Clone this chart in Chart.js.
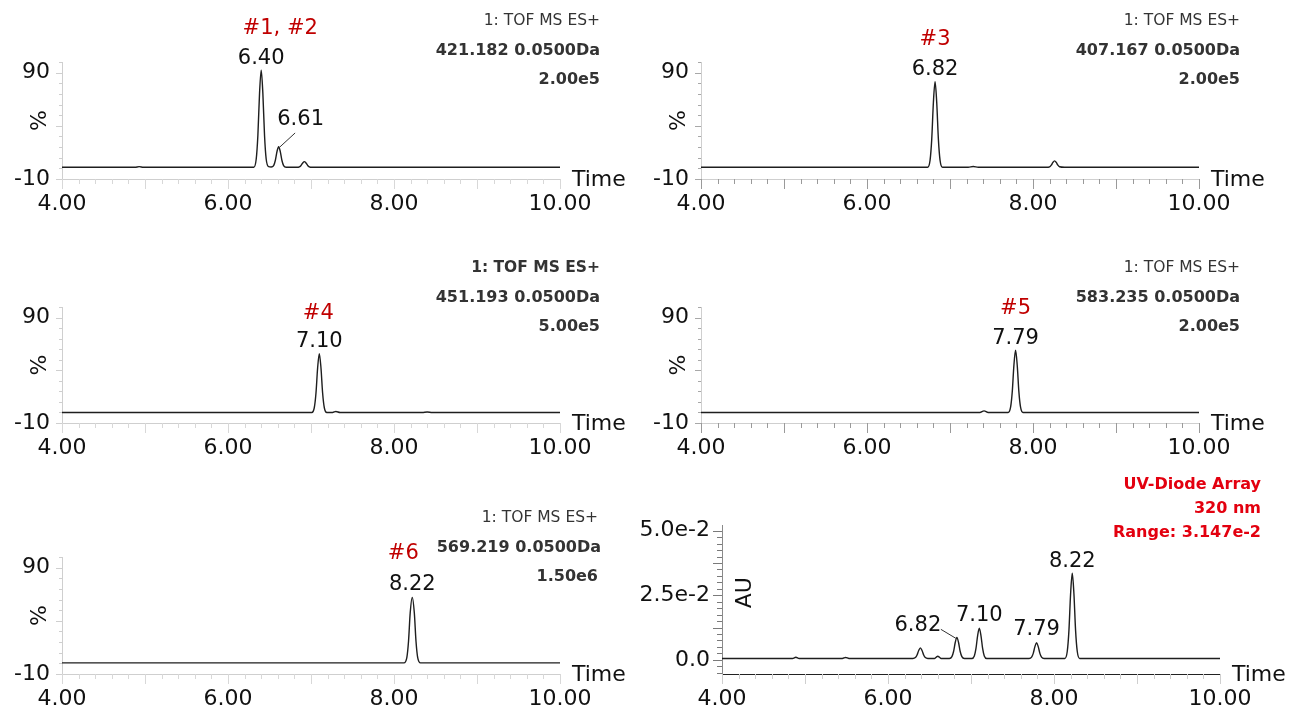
<!DOCTYPE html>
<html>
<head>
<meta charset="utf-8">
<title>Extracted ion chromatograms</title>
<script src="https://cdn.jsdelivr.net/npm/chart.js@4.4.1/dist/chart.umd.min.js"></script>
<style>
    html, body { margin: 0; padding: 0; background: #fff; }
    body { width: 1291px; height: 711px; position: relative; overflow: hidden; }
    canvas { position: absolute; }
</style>
</head>
<body>
<canvas id="c1"></canvas>
<canvas id="c2"></canvas>
<canvas id="c3"></canvas>
<canvas id="c4"></canvas>
<canvas id="c5"></canvas>
<canvas id="c6"></canvas>
<script>
// Axis ticks
const timeLabels = [4, 6, 8, 10];
const pctLabels = [90, -10];
const auLabels = { "0": "0.0", "0.025": "2.5e-2", "0.05": "5.0e-2" };

// 421.182 trace
const p1Time = [4.00, 4.88, 4.93, 4.98, 6.31, 6.34, 6.36, 6.38, 6.40, 6.42, 6.44, 6.46, 6.49, 6.52, 6.55, 6.57, 6.59, 6.61, 6.63, 6.65, 6.67, 6.70, 6.83, 6.86, 6.88, 6.90, 6.92, 6.94, 6.96, 6.98, 7.01, 10.00];
const p1Pct = [1, 1, 1.6, 1, 1, 8.8, 31.2, 70.5, 92.4, 70.5, 31.2, 8.8, 1.6, 1.3, 2.6, 7.4, 15.7, 20.4, 15.7, 7.4, 2.6, 1, 1, 1.45, 2.75, 5.0, 6.3, 5.0, 2.75, 1.45, 1, 1];

// 407.167 trace
const p2Time = [4.00, 6.73, 6.76, 6.78, 6.80, 6.82, 6.84, 6.86, 6.88, 6.91, 7.22, 7.28, 7.34, 8.16, 8.20, 8.22, 8.24, 8.26, 8.28, 8.30, 8.32, 8.38, 10.00];
const p2Pct = [1, 1, 7.8, 27.5, 62.1, 81.4, 62.1, 27.5, 7.8, 1, 1, 1.8, 1, 1, 1.5, 3.0, 5.6, 7.0, 5.6, 3.0, 1.5, 1, 1];

// 451.193 trace
const p3Time = [4.00, 7.01, 7.04, 7.06, 7.08, 7.10, 7.12, 7.14, 7.16, 7.19, 7.26, 7.30, 7.35, 8.34, 8.40, 8.46, 10.00];
const p3Pct = [0, 0, 4.7, 18.4, 42.4, 55.8, 42.4, 18.4, 4.7, 0, 0, 0.9, 0, 0, 0.4, 0, 0];

// 583.235 trace
const p4Time = [4.00, 7.36, 7.41, 7.46, 7.70, 7.73, 7.75, 7.77, 7.79, 7.81, 7.83, 7.85, 7.88, 10.00];
const p4Pct = [0, 0, 1.5, 0, 0, 5.0, 19.5, 44.8, 59.0, 44.8, 19.5, 5.0, 0, 0];

// 569.219 trace
const p5Time = [4.00, 8.12, 8.155, 8.175, 8.195, 8.22, 8.245, 8.265, 8.285, 8.32, 10.00];
const p5Pct = [0.5, 0.5, 5.7, 20.8, 47.2, 62.0, 47.2, 20.8, 5.7, 0.5, 0.5];

// UV 320 nm trace
const p6Time = [4.00, 4.85, 4.89, 4.93, 5.45, 5.49, 5.53,
    6.30, 6.33, 6.35, 6.37, 6.39, 6.41, 6.43, 6.45, 6.48,
    6.56, 6.58, 6.60, 6.62, 6.64,
    6.74, 6.77, 6.79, 6.81, 6.83, 6.85, 6.87, 6.89, 6.92,
    7.01, 7.04, 7.06, 7.08, 7.10, 7.12, 7.14, 7.16, 7.19,
    7.70, 7.73, 7.75, 7.77, 7.79, 7.81, 7.83, 7.85, 7.88,
    8.13, 8.16, 8.18, 8.20, 8.22, 8.24, 8.26, 8.28, 8.31, 10.00];
const p6AU = [0.0005, 0.0005, 0.0010, 0.0005, 0.0005, 0.0009, 0.0005,
    0.0005, 0.00085, 0.00185, 0.0036, 0.0046, 0.0036, 0.00185, 0.00085, 0.0005,
    0.0005, 0.0010, 0.0014, 0.0010, 0.0005,
    0.0005, 0.0012, 0.0032, 0.0067, 0.0087, 0.0067, 0.0032, 0.0012, 0.0005,
    0.0005, 0.0015, 0.0044, 0.0094, 0.0122, 0.0094, 0.0044, 0.0015, 0.0005,
    0.0005, 0.0010, 0.0025, 0.0051, 0.0066, 0.0051, 0.0025, 0.0010, 0.0005,
    0.0005, 0.0033, 0.0114, 0.0256, 0.0335, 0.0256, 0.0114, 0.0033, 0.0005, 0.0005];

const FONT = "'DejaVu Sans', sans-serif";
const RED = "#c00000";

// tick marks + text that Chart.js has no slot for
const decorPlugin = {
    id: "decor",
    afterDraw(chart, args, o) {
        const ctx = chart.ctx;
        const xs = chart.scales.x;
        const ys = chart.scales.y;
        ctx.save();
        ctx.lineWidth = 1;

        ctx.strokeStyle = o.xTickColor;
        xs.ticks.forEach(t => {
            const px = Math.round(xs.getPixelForValue(t.value)) + 0.5;
            const major = Math.abs(t.value - Math.round(t.value)) < 1e-6;
            ctx.beginPath();
            ctx.moveTo(px, xs.top);
            ctx.lineTo(px, xs.top + (major ? 10 : 5));
            ctx.stroke();
        });

        ctx.strokeStyle = o.yTickColor;
        ys.ticks.forEach(t => {
            const py = Math.round(ys.getPixelForValue(t.value)) + 0.5;
            const len = o.yMajor(t.value) ? o.yLong : o.yShort;
            ctx.beginPath();
            ctx.moveTo(ys.right - len, py);
            ctx.lineTo(ys.right, py);
            ctx.stroke();
        });

        // "Time"
        ctx.fillStyle = "#111";
        ctx.font = "22px " + FONT;
        ctx.textAlign = "left";
        ctx.textBaseline = "middle";
        ctx.fillText("Time", xs.right + 12, xs.top + 1);

        // rotated y title
        ctx.save();
        ctx.translate(ys.right + o.yTitleDx, ys.getPixelForValue(o.yTitleAt));
        ctx.rotate(-Math.PI / 2);
        ctx.textAlign = "center";
        ctx.fillText(o.yTitle, 0, 0);
        ctx.restore();

        // header block, top right
        ctx.textAlign = "right";
        o.header.forEach(h => {
            ctx.font = h.font;
            ctx.fillStyle = h.color;
            ctx.fillText(h.text, h.x - o.left, h.y - o.top);
        });

        // peak annotations
        ctx.textAlign = "center";
        o.peaks.forEach(p => {
            const px = xs.getPixelForValue(p.t);
            const py = ys.getPixelForValue(p.v);
            ctx.font = "21px " + FONT;
            ctx.fillStyle = p.red ? RED : "#111";
            ctx.fillText(p.text, px + (p.dx || 0), py + p.dy);
            if (p.leader) {
                ctx.strokeStyle = "#333";
                ctx.beginPath();
                ctx.moveTo(px + p.leader[0], py + p.leader[1]);
                ctx.lineTo(px + p.leader[2], py + p.leader[3]);
                ctx.stroke();
            }
        });
        ctx.restore();
    }
};

function timeTicks() {
    const list = [];
    for (let i = 0; i <= 30; i++) list.push(Math.round((4 + i * 0.2) * 10) / 10);
    return list;
}

function makePanel(id, box, area, times, values, yCfg, extra) {
    const canvas = document.getElementById(id);
    canvas.width = box.w;
    canvas.height = box.h;
    canvas.style.left = box.x + "px";
    canvas.style.top = box.y + "px";

    const yW = yCfg.width;
    const xH = 35;

    return new Chart(canvas.getContext("2d"), {
        type: "line",
        data: {
            datasets: [{
                data: times.map((t, i) => ({ x: t, y: values[i] })),
                borderColor: "#1e1e1e",
                borderWidth: 1.4,
                pointRadius: 0,
                cubicInterpolationMode: "monotone",
                fill: false
            }]
        },
        options: {
            responsive: false,
            animation: false,
            events: [],
            layout: {
                padding: {
                    left: area.l - box.x - yW,
                    top: area.t - box.y,
                    right: box.x + box.w - area.r,
                    bottom: box.y + box.h - area.b - xH
                }
            },
            plugins: {
                legend: { display: false },
                tooltip: { enabled: false },
                decor: Object.assign({ left: box.x, top: box.y }, extra)
            },
            scales: {
                x: {
                    type: "linear",
                    min: 4,
                    max: 10,
                    afterBuildTicks: s => { s.ticks = timeTicks().map(v => ({ value: v })); },
                    afterFit: s => { s.height = xH; },
                    ticks: {
                        autoSkip: false,
                        maxRotation: 0,
                        padding: extra.xPad,
                        color: "#111",
                        font: { family: FONT, size: 22 },
                        callback: v => timeLabels.some(l => Math.abs(l - v) < 1e-6) ? v.toFixed(2) : ""
                    },
                    grid: { drawOnChartArea: false, tickLength: 10, tickColor: "rgba(0,0,0,0)" },
                    border: { color: extra.xAxisColor, width: 1 }
                },
                y: {
                    type: "linear",
                    min: yCfg.min,
                    max: yCfg.max,
                    afterBuildTicks: s => { s.ticks = yCfg.ticks.map(v => ({ value: v })); },
                    afterFit: s => { s.width = yW; },
                    ticks: {
                        autoSkip: false,
                        padding: 6,
                        color: "#111",
                        font: { family: FONT, size: 22 },
                        callback: yCfg.label
                    },
                    grid: { drawOnChartArea: false, tickLength: 6, tickColor: "rgba(0,0,0,0)" },
                    border: { color: extra.yAxisColor, width: 1 }
                }
            }
        },
        plugins: [decorPlugin]
    });
}

// percent axis used by the five MS traces
const pctTicks = [];
for (let v = -10; v <= 100; v += 10) pctTicks.push(v);
const pctAxis = {
    min: -10, max: 100, width: 60, ticks: pctTicks,
    label: v => pctLabels.includes(v) ? String(v) : ""
};

const auTicks = [];
for (let i = -2; i <= 20; i++) auTicks.push(Math.round(i * 0.0025 * 10000) / 10000);
const auAxis = {
    min: -0.0055, max: 0.0522, width: 100, ticks: auTicks,
    label: v => auLabels[String(v)] || ""
};

function msHeader(right, top, first, mass, scale, boldFirst) {
    return [
        { text: first, x: right, y: top, font: (boldFirst ? "bold 15.5px " : "15.5px ") + FONT, color: "#333" },
        { text: mass, x: right + (boldFirst === null ? 3 : 0), y: top + 30, font: "bold 16px " + FONT, color: "#333" },
        { text: scale, x: right, y: top + 59, font: "bold 16px " + FONT, color: "#333" }
    ];
}

function pctDecor(header, peaks, light, xPad) {
    return {
        header: header,
        peaks: peaks,
        xTickColor: light ? "#d8d8d8" : "#9a9a9a",
        yTickColor: light ? "#cfcfcf" : "#a8a8a8",
        xAxisColor: "#cfcfcf",
        yAxisColor: "#cfcfcf",
        yMajor: v => v === -10 || v === 40 || v === 90,
        yLong: 6, yShort: 3,
        yTitle: "%", yTitleAt: 45, yTitleDx: -22,
        xPad: xPad
    };
}

makePanel("c1", { x: 0, y: 0, w: 640, h: 230 }, { l: 62, t: 62, r: 560, b: 179 }, p1Time, p1Pct, pctAxis,
    pctDecor(msHeader(600, 21, "1: TOF MS ES+", "421.182 0.0500Da", "2.00e5", false), [
        { text: "6.40", t: 6.40, v: 92.4, dy: -12 },
        { text: "#1, #2", t: 6.40, v: 92.4, dx: 19, dy: -42, red: true },
        { text: "6.61", t: 6.61, v: 20.4, dx: 22, dy: -27, leader: [0.5, 1, 16.5, -13.7] }
    ], true, 2));

makePanel("c2", { x: 640, y: 0, w: 651, h: 230 }, { l: 701, t: 62, r: 1199, b: 179 }, p2Time, p2Pct, pctAxis,
    pctDecor(msHeader(1240, 21, "1: TOF MS ES+", "407.167 0.0500Da", "2.00e5", false), [
        { text: "6.82", t: 6.82, v: 81.4, dy: -12 },
        { text: "#3", t: 6.82, v: 81.4, dy: -42, red: true }
    ], false, 2));

makePanel("c3", { x: 0, y: 230, w: 640, h: 235 }, { l: 62, t: 307, r: 560, b: 423 }, p3Time, p3Pct, pctAxis,
    pctDecor(msHeader(600, 268, "1: TOF MS ES+", "451.193 0.0500Da", "5.00e5", true), [
        { text: "7.10", t: 7.10, v: 55.8, dy: -12 },
        { text: "#4", t: 7.10, v: 55.8, dx: -1, dy: -40, red: true }
    ], true, 2));

makePanel("c4", { x: 640, y: 230, w: 651, h: 235 }, { l: 701, t: 307, r: 1199, b: 423 }, p4Time, p4Pct, pctAxis,
    pctDecor(msHeader(1240, 268, "1: TOF MS ES+", "583.235 0.0500Da", "2.00e5", false), [
        { text: "7.79", t: 7.79, v: 59.0, dy: -12 },
        { text: "#5", t: 7.79, v: 59.0, dy: -42, red: true }
    ], false, 2));

makePanel("c5", { x: 0, y: 465, w: 640, h: 246 }, { l: 62, t: 557, r: 560, b: 674 }, p5Time, p5Pct, pctAxis,
    pctDecor(msHeader(598, 518, "1: TOF MS ES+", "569.219 0.0500Da", "1.50e6", null), [
        { text: "8.22", t: 8.22, v: 62.0, dy: -13 },
        { text: "#6", t: 8.22, v: 62.0, dx: -9, dy: -44, red: true }
    ], true, 2));

makePanel("c6", { x: 600, y: 465, w: 691, h: 246 }, { l: 722, t: 525, r: 1220, b: 674 }, p6Time, p6AU, auAxis, {
    header: [
        { text: "UV-Diode Array", x: 1261, y: 485, font: "bold 16px " + FONT, color: "#e3000f" },
        { text: "320 nm", x: 1261, y: 509, font: "bold 16px " + FONT, color: "#e3000f" },
        { text: "Range: 3.147e-2", x: 1261, y: 533, font: "bold 16px " + FONT, color: "#e3000f" }
    ],
    peaks: [
        { text: "6.82", t: 6.83, v: 0.0087, dx: -39, dy: -12, leader: [-16, -8, -1, 1] },
        { text: "7.10", t: 7.10, v: 0.0122, dy: -13 },
        { text: "7.79", t: 7.79, v: 0.0066, dy: -13 },
        { text: "8.22", t: 8.22, v: 0.0335, dy: -12 }
    ],
    xTickColor: "#cfcfcf",
    yTickColor: "#7a7a7a",
    xAxisColor: "#222",
    yAxisColor: "#8a8a8a",
    yMajor: v => Math.abs(v / 0.0125 - Math.round(v / 0.0125)) < 1e-6,
    yLong: 9, yShort: 5,
    yTitle: "AU", yTitleAt: 0.026, yTitleDx: 23,
    xPad: 2
});
</script>
</body>
</html>
